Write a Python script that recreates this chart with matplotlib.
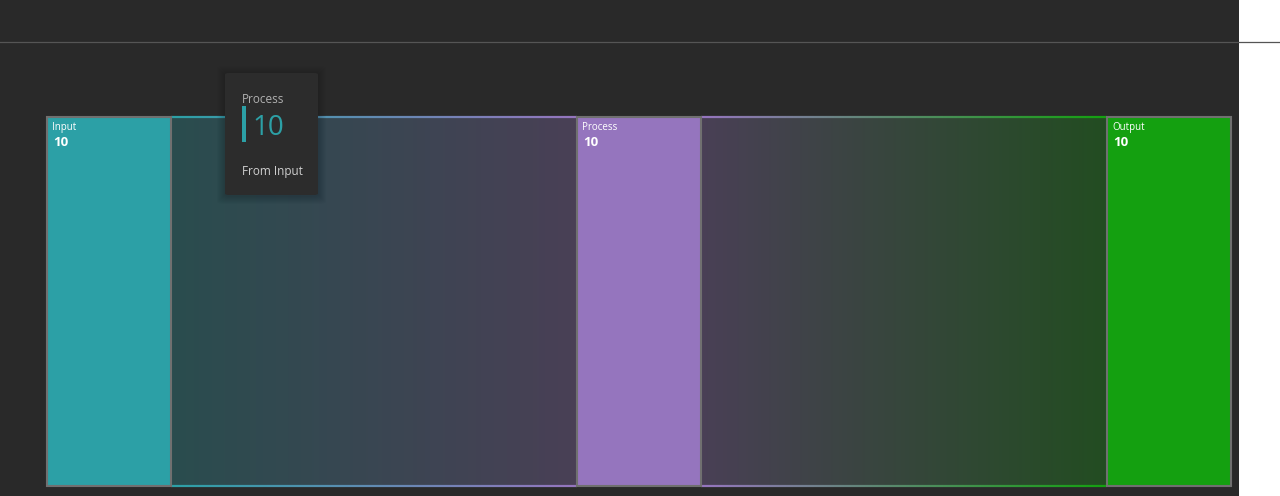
import numpy as np
import matplotlib.pyplot as plt
from matplotlib.patches import Rectangle, FancyBboxPatch
from matplotlib.collections import LineCollection
from matplotlib.colors import to_rgb
from matplotlib.lines import Line2D

plt.rcParams['font.family'] = ['Open Sans', 'DejaVu Sans']

# sankey data
nodes = ["Input", "Process", "Output"]
node_values = [10, 10, 10]
node_colors = ["#2ca0a6", "#9575be", "#14a010"]
link_sources = ["Input", "Process"]
link_targets = ["Process", "Output"]
link_values = [10, 10]

# tooltip content (hovered link Input -> Process)
tip_source = "Input"
tip_title = "Process"
tip_value = 10
tip_from = "From Input"

BG = "#292929"
W, H = 1280, 496

fig = plt.figure(figsize=(W / 100, H / 100), dpi=100, facecolor=BG)

# white strip on the right + header rule
fig.patches.append(Rectangle((1239 / W, 0), 1 - 1239 / W, 1, transform=fig.transFigure,
                             facecolor="white", edgecolor="none", zorder=0))
fig.add_artist(Line2D([0, 1], [1 - 41.5 / H] * 2, transform=fig.transFigure,
                      color="#555555", lw=0.9, zorder=1))

ax = fig.add_axes([47 / W, (H - 486) / H, (1231 - 47) / W, (486 - 117) / H])
ax.set_facecolor(BG)
ax.axis("off")

node_w = 1.0
gap = 3.27
total = max(node_values)
col = {n: i for i, n in enumerate(nodes)}
x_left = {n: col[n] * (node_w + gap) for n in nodes}
cmap = dict(zip(nodes, node_colors))
bg = np.array(to_rgb(BG))


def mix(c, a):
    return np.array(to_rgb(c)) * a + bg * (1 - a)


# links with horizontal gradient
for s, t, v in zip(link_sources, link_targets, link_values):
    x0 = x_left[s] + node_w
    x1 = x_left[t]
    y1 = total
    y0 = total - v
    n = 256
    f = np.linspace(0, 1, n)[:, None]
    c0, c1 = mix(cmap[s], 0.3), mix(cmap[t], 0.3)
    grad = (c0 * (1 - f) + c1 * f)[None, :, :]
    ax.imshow(grad, extent=[x0, x1, y0, y1], aspect="auto", interpolation="bilinear", zorder=1)
    # gradient stroke top and bottom
    xs = np.linspace(x0, x1, 120)
    for yy in (y0, y1):
        segs = [[(xs[i], yy), (xs[i + 1], yy)] for i in range(len(xs) - 1)]
        ff = np.linspace(0, 1, len(segs))[:, None]
        cols = np.array(to_rgb(cmap[s])) * (1 - ff) + np.array(to_rgb(cmap[t])) * ff
        lc = LineCollection(segs, colors=cols, linewidths=1.6, zorder=2, capstyle="butt")
        lc.set_clip_on(False)
        ax.add_collection(lc)

# nodes
for name, v in zip(nodes, node_values):
    x = x_left[name]
    ax.add_patch(Rectangle((x, total - v), node_w, v, facecolor=cmap[name],
                           edgecolor="#707070", lw=1.5, zorder=3, clip_on=False))
    ax.annotate(name, (x, total), xytext=(5, -13), textcoords="offset pixels",
                color="white", fontsize=7, zorder=4)
    ax.annotate(str(v), (x, total), xytext=(6, -29), textcoords="offset pixels",
                color="white", fontsize=9.5, fontweight="bold", zorder=4)

ax.set_xlim(0, len(nodes) * node_w + (len(nodes) - 1) * gap)
ax.set_ylim(0, total)

# tooltip with soft shadow
tx0, ty0, tx1, ty1 = 225, 73, 318, 195
for k in range(8, 0, -1):
    fig.patches.append(FancyBboxPatch(((tx0 - k) / W, 1 - (ty1 + k + 1) / H),
                                      (tx1 - tx0 + 2 * k) / W, (ty1 - ty0 + 2 * k) / H,
                                      boxstyle="round,pad=0,rounding_size=0.006",
                                      transform=fig.transFigure, facecolor="black",
                                      edgecolor="none", alpha=0.025, zorder=5))
fig.patches.append(FancyBboxPatch((tx0 / W, 1 - ty1 / H), (tx1 - tx0) / W, (ty1 - ty0) / H,
                                  boxstyle="round,pad=0,rounding_size=0.003",
                                  transform=fig.transFigure, facecolor="#2c2c2c",
                                  edgecolor="none", zorder=6))
fig.patches.append(Rectangle((242 / W, 1 - 142 / H), 4 / W, 36 / H, transform=fig.transFigure,
                             facecolor=cmap[tip_source], edgecolor="none", zorder=7))
fig.text(242 / W, 1 - 103 / H, tip_title, color="#b0b0b0", fontsize=8.5, zorder=8)
fig.text(252 / W, 1 - 135 / H, str(tip_value), color=cmap[tip_source], fontsize=20, zorder=8)
fig.text(242 / W, 1 - 175 / H, tip_from, color="#d0d0d0", fontsize=8.5, zorder=8)

fig.savefig("out.png", dpi=100, facecolor=BG)
